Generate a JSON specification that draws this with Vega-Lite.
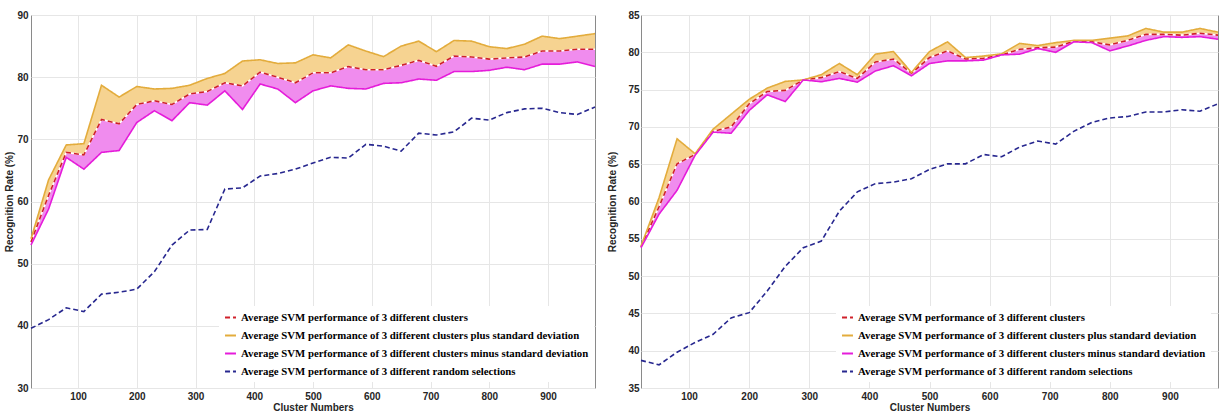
{
  "$schema": "https://vega.github.io/schema/vega-lite/v6.json",
  "padding": {"left": 4, "top": 9, "right": 0, "bottom": 0},
  "background": "white",
  "spacing": 8,
  "datasets": {
    "A": [
      {"x": 20, "plus": 54.0, "mean": 53.5, "minus": 53.0, "random": 39.6},
      {"x": 50, "plus": 63.5, "mean": 61.0, "minus": 58.8, "random": 41.0},
      {"x": 80, "plus": 69.1, "mean": 67.9, "minus": 67.1, "random": 42.9},
      {"x": 110, "plus": 69.3, "mean": 67.5, "minus": 65.2, "random": 42.3},
      {"x": 140, "plus": 78.7, "mean": 73.2, "minus": 67.9, "random": 45.1},
      {"x": 170, "plus": 76.8, "mean": 72.5, "minus": 68.2, "random": 45.4},
      {"x": 200, "plus": 78.5, "mean": 75.6, "minus": 72.7, "random": 45.9},
      {"x": 230, "plus": 78.1, "mean": 76.2, "minus": 74.6, "random": 48.7},
      {"x": 260, "plus": 78.2, "mean": 75.6, "minus": 73.0, "random": 53.0},
      {"x": 290, "plus": 78.7, "mean": 77.3, "minus": 75.9, "random": 55.4},
      {"x": 320, "plus": 79.8, "mean": 77.7, "minus": 75.5, "random": 55.5},
      {"x": 350, "plus": 80.6, "mean": 79.1, "minus": 77.8, "random": 62.0},
      {"x": 380, "plus": 82.6, "mean": 78.6, "minus": 74.8, "random": 62.2},
      {"x": 410, "plus": 82.8, "mean": 80.8, "minus": 78.9, "random": 64.1},
      {"x": 440, "plus": 82.2, "mean": 80.0, "minus": 78.1, "random": 64.5},
      {"x": 470, "plus": 82.3, "mean": 79.1, "minus": 75.9, "random": 65.2},
      {"x": 500, "plus": 83.6, "mean": 80.7, "minus": 77.8, "random": 66.2},
      {"x": 530, "plus": 83.1, "mean": 80.7, "minus": 78.6, "random": 67.1},
      {"x": 560, "plus": 85.2, "mean": 81.7, "minus": 78.2, "random": 67.0},
      {"x": 590, "plus": 84.2, "mean": 81.2, "minus": 78.1, "random": 69.2},
      {"x": 620, "plus": 83.3, "mean": 81.2, "minus": 79.0, "random": 68.9},
      {"x": 650, "plus": 85.0, "mean": 81.9, "minus": 79.1, "random": 68.1},
      {"x": 680, "plus": 85.8, "mean": 82.7, "minus": 79.7, "random": 71.0},
      {"x": 710, "plus": 84.1, "mean": 81.75, "minus": 79.5, "random": 70.7},
      {"x": 740, "plus": 85.9, "mean": 83.4, "minus": 80.9, "random": 71.2},
      {"x": 770, "plus": 85.8, "mean": 83.25, "minus": 80.9, "random": 73.4},
      {"x": 800, "plus": 84.9, "mean": 82.9, "minus": 81.1, "random": 73.1},
      {"x": 830, "plus": 84.6, "mean": 83.1, "minus": 81.6, "random": 74.3},
      {"x": 860, "plus": 85.3, "mean": 83.25, "minus": 81.2, "random": 74.9},
      {"x": 890, "plus": 86.6, "mean": 84.2, "minus": 82.1, "random": 75.0},
      {"x": 920, "plus": 86.2, "mean": 84.2, "minus": 82.1, "random": 74.3},
      {"x": 950, "plus": 86.6, "mean": 84.5, "minus": 82.45, "random": 74.0},
      {"x": 980, "plus": 87.0, "mean": 84.5, "minus": 81.7, "random": 75.2}
    ],
    "B": [
      {"x": 20, "plus": 54.0, "mean": 53.9, "minus": 53.8, "random": 38.7},
      {"x": 50, "plus": 60.5, "mean": 59.3, "minus": 58.3, "random": 38.1},
      {"x": 80, "plus": 68.4, "mean": 65.05, "minus": 61.5, "random": 39.8},
      {"x": 110, "plus": 66.4, "mean": 66.3, "minus": 66.2, "random": 41.1},
      {"x": 140, "plus": 69.7, "mean": 69.4, "minus": 69.3, "random": 42.2},
      {"x": 170, "plus": 71.7, "mean": 70.0, "minus": 69.15, "random": 44.4},
      {"x": 200, "plus": 73.7, "mean": 73.1, "minus": 72.2, "random": 45.1},
      {"x": 230, "plus": 75.2, "mean": 74.75, "minus": 74.3, "random": 48.0},
      {"x": 260, "plus": 76.1, "mean": 74.9, "minus": 73.4, "random": 51.3},
      {"x": 290, "plus": 76.3, "mean": 76.3, "minus": 76.3, "random": 53.8},
      {"x": 320, "plus": 77.0, "mean": 76.6, "minus": 76.05, "random": 54.7},
      {"x": 350, "plus": 78.5, "mean": 77.4, "minus": 76.5, "random": 58.7},
      {"x": 380, "plus": 77.0, "mean": 76.5, "minus": 76.0, "random": 61.3},
      {"x": 410, "plus": 79.75, "mean": 78.7, "minus": 77.5, "random": 62.4},
      {"x": 440, "plus": 80.1, "mean": 79.1, "minus": 78.2, "random": 62.6},
      {"x": 470, "plus": 77.3, "mean": 77.2, "minus": 76.85, "random": 63.05},
      {"x": 500, "plus": 80.1, "mean": 79.3, "minus": 78.5, "random": 64.3},
      {"x": 530, "plus": 81.4, "mean": 80.2, "minus": 78.85, "random": 65.05},
      {"x": 560, "plus": 79.3, "mean": 79.1, "minus": 78.85, "random": 65.05},
      {"x": 590, "plus": 79.5, "mean": 79.2, "minus": 78.95, "random": 66.3},
      {"x": 620, "plus": 79.8, "mean": 79.65, "minus": 79.65, "random": 66.0},
      {"x": 650, "plus": 81.2, "mean": 80.4, "minus": 79.75, "random": 67.3},
      {"x": 680, "plus": 80.9, "mean": 80.6, "minus": 80.5, "random": 68.1},
      {"x": 710, "plus": 81.3, "mean": 80.7, "minus": 80.0, "random": 67.7},
      {"x": 740, "plus": 81.6, "mean": 81.5, "minus": 81.4, "random": 69.4},
      {"x": 770, "plus": 81.6, "mean": 81.4, "minus": 81.3, "random": 70.6},
      {"x": 800, "plus": 81.9, "mean": 81.0, "minus": 80.2, "random": 71.2},
      {"x": 830, "plus": 82.2, "mean": 81.6, "minus": 80.85, "random": 71.4},
      {"x": 860, "plus": 83.2, "mean": 82.4, "minus": 81.6, "random": 72.0},
      {"x": 890, "plus": 82.7, "mean": 82.4, "minus": 82.1, "random": 72.0},
      {"x": 920, "plus": 82.7, "mean": 82.3, "minus": 82.0, "random": 72.3},
      {"x": 950, "plus": 83.2, "mean": 82.55, "minus": 82.1, "random": 72.1},
      {"x": 980, "plus": 82.7, "mean": 82.3, "minus": 81.75, "random": 73.1}
    ]
  },
  "config": {
    "view": {"stroke": "#8a8a8a", "strokeWidth": 1},
    "axis": {
      "labelFont": "Liberation Sans Narrow, Liberation Sans",
      "labelFontWeight": "bold",
      "labelFontSize": 10,
      "labelColor": "#262626",
      "labelOverlap": false,
      "titleFont": "Liberation Sans Narrow, Liberation Sans",
      "titleFontWeight": "bold",
      "titleFontSize": 10,
      "titleColor": "#262626",
      "grid": true,
      "gridColor": "#e6e6e6",
      "ticks": false,
      "domain": false
    },
    "legend": {
      "orient": "none",
      "padding": 5,
      "fillColor": "white",
      "labelFont": "Liberation Serif",
      "labelFontWeight": "bold",
      "labelFontSize": 10.8,
      "labelColor": "black",
      "labelLimit": 600,
      "rowPadding": 6,
      "symbolStrokeWidth": 2,
      "symbolSize": 120
    }
  },
  "resolve": {
    "scale": {"x": "independent", "y": "independent", "color": "independent", "strokeDash": "independent"},
    "legend": {"color": "independent", "strokeDash": "independent"}
  },
  "hconcat": [
    {
      "width": 564,
      "height": 373,
      "data": {"name": "A"},
      "encoding": {
        "x": {"field": "x", "type": "quantitative", "title": "Cluster Numbers",
          "scale": {"domain": [20, 980], "nice": false, "zero": false},
          "axis": {"values": [100, 200, 300, 400, 500, 600, 700, 800, 900], "labelPadding": 3, "titlePadding": 1}}
      },
      "layer": [
        {"mark": {"type": "area", "color": "#F6D391", "opacity": 1},
         "encoding": {"y": {"field": "plus", "type": "quantitative", "title": "Recognition Rate (%)",
            "scale": {"domain": [30, 90], "nice": false, "zero": false},
            "axis": {"values": [30, 40, 50, 60, 70, 80, 90], "labelPadding": 3, "titlePadding": 2}},
           "y2": {"field": "mean"}}},
        {"mark": {"type": "area", "color": "#F08CEE", "opacity": 1},
         "encoding": {"y": {"field": "mean", "type": "quantitative", "title": "Recognition Rate (%)",
            "axis": {"values": [30, 40, 50, 60, 70, 80, 90], "labelPadding": 3, "titlePadding": 2}}, "y2": {"field": "minus"}}},
        {"mark": {"type": "line", "color": "white", "strokeWidth": 1.6},
         "encoding": {"y": {"field": "mean", "type": "quantitative", "title": "Recognition Rate (%)",
            "axis": {"values": [30, 40, 50, 60, 70, 80, 90], "labelPadding": 3, "titlePadding": 2}}}},
        {"transform": [{"fold": ["mean", "plus", "minus", "random"], "as": ["key", "val"]}],
         "mark": {"type": "line", "strokeWidth": 1.6},
         "encoding": {
           "y": {"field": "val", "type": "quantitative", "title": "Recognition Rate (%)",
            "axis": {"values": [30, 40, 50, 60, 70, 80, 90], "labelPadding": 3, "titlePadding": 2}},
           "color": {"field": "key", "type": "nominal",
             "scale": {"domain": ["mean", "plus", "minus", "random"], "range": ["#D0202A", "#E3AC3C", "#E51CDA", "#27278F"]},
             "legend": {"title": null, "legendX": 188, "legendY": 291, "labelExpr": "datum.value == 'mean' ? 'Average SVM performance of 3 different clusters' : datum.value == 'plus' ? 'Average SVM performance of 3 different clusters plus standard deviation' : datum.value == 'minus' ? 'Average SVM performance of 3 different clusters minus standard deviation' : 'Average SVM performance of 3 different random selections'"}},
           "strokeDash": {"field": "key", "type": "nominal",
             "scale": {"domain": ["mean", "plus", "minus", "random"], "range": [[5, 3], [1, 0], [1, 0], [5, 3]]},
             "legend": {"title": null, "legendX": 188, "legendY": 291, "labelExpr": "datum.value == 'mean' ? 'Average SVM performance of 3 different clusters' : datum.value == 'plus' ? 'Average SVM performance of 3 different clusters plus standard deviation' : datum.value == 'minus' ? 'Average SVM performance of 3 different clusters minus standard deviation' : 'Average SVM performance of 3 different random selections'"}}
         }}
      ]
    },
    {
      "width": 577,
      "height": 373,
      "data": {"name": "B"},
      "encoding": {
        "x": {"field": "x", "type": "quantitative", "title": "Cluster Numbers",
          "scale": {"domain": [20, 980], "nice": false, "zero": false},
          "axis": {"values": [100, 200, 300, 400, 500, 600, 700, 800, 900], "labelPadding": 3, "titlePadding": 1}}
      },
      "layer": [
        {"mark": {"type": "area", "color": "#F6D391", "opacity": 1},
         "encoding": {"y": {"field": "plus", "type": "quantitative", "title": "Recognition Rate (%)",
            "scale": {"domain": [35, 85], "nice": false, "zero": false},
            "axis": {"values": [35, 40, 45, 50, 55, 60, 65, 70, 75, 80, 85], "labelPadding": 2, "titlePadding": 10}},
           "y2": {"field": "mean"}}},
        {"mark": {"type": "area", "color": "#F08CEE", "opacity": 1},
         "encoding": {"y": {"field": "mean", "type": "quantitative", "title": "Recognition Rate (%)",
            "axis": {"values": [35, 40, 45, 50, 55, 60, 65, 70, 75, 80, 85], "labelPadding": 2, "titlePadding": 10}}, "y2": {"field": "minus"}}},
        {"mark": {"type": "line", "color": "white", "strokeWidth": 1.6},
         "encoding": {"y": {"field": "mean", "type": "quantitative", "title": "Recognition Rate (%)",
            "axis": {"values": [35, 40, 45, 50, 55, 60, 65, 70, 75, 80, 85], "labelPadding": 2, "titlePadding": 10}}}},
        {"transform": [{"fold": ["mean", "plus", "minus", "random"], "as": ["key", "val"]}],
         "mark": {"type": "line", "strokeWidth": 1.6},
         "encoding": {
           "y": {"field": "val", "type": "quantitative", "title": "Recognition Rate (%)",
            "axis": {"values": [35, 40, 45, 50, 55, 60, 65, 70, 75, 80, 85], "labelPadding": 2, "titlePadding": 10}},
           "color": {"field": "key", "type": "nominal",
             "scale": {"domain": ["mean", "plus", "minus", "random"], "range": ["#D0202A", "#E3AC3C", "#E51CDA", "#27278F"]},
             "legend": {"title": null, "legendX": 195, "legendY": 291, "labelExpr": "datum.value == 'mean' ? 'Average SVM performance of 3 different clusters' : datum.value == 'plus' ? 'Average SVM performance of 3 different clusters plus standard deviation' : datum.value == 'minus' ? 'Average SVM performance of 3 different clusters minus standard deviation' : 'Average SVM performance of 3 different random selections'"}},
           "strokeDash": {"field": "key", "type": "nominal",
             "scale": {"domain": ["mean", "plus", "minus", "random"], "range": [[5, 3], [1, 0], [1, 0], [5, 3]]},
             "legend": {"title": null, "legendX": 195, "legendY": 291, "labelExpr": "datum.value == 'mean' ? 'Average SVM performance of 3 different clusters' : datum.value == 'plus' ? 'Average SVM performance of 3 different clusters plus standard deviation' : datum.value == 'minus' ? 'Average SVM performance of 3 different clusters minus standard deviation' : 'Average SVM performance of 3 different random selections'"}}
         }}
      ]
    }
  ]
}
